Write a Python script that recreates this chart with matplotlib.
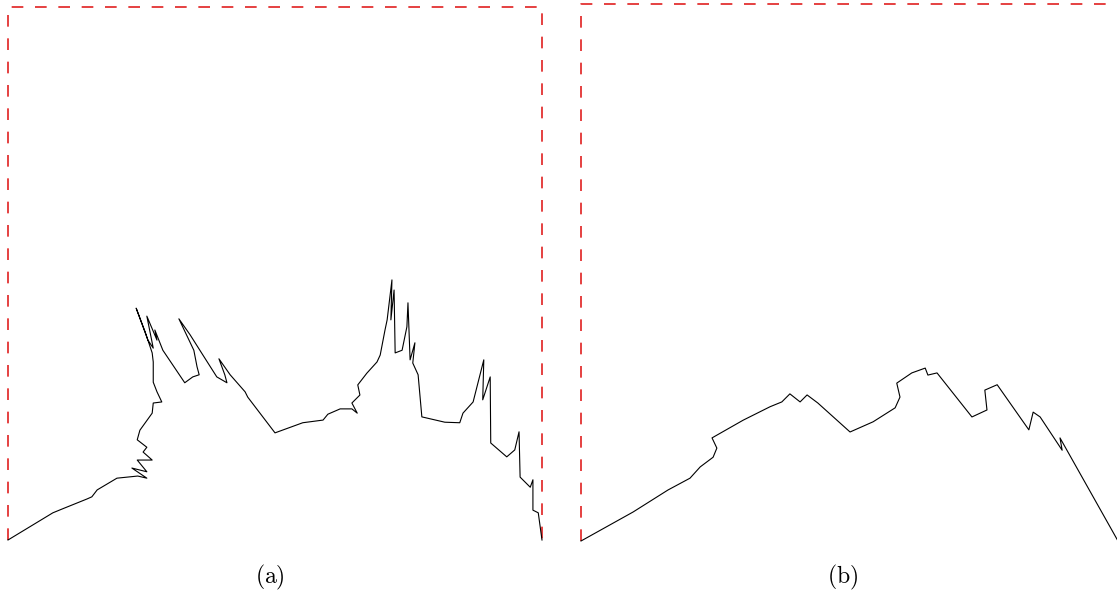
import matplotlib
matplotlib.use("Agg")
import matplotlib.pyplot as plt

# panel (a): path in box units (0..100 each way)
A_X = [0, 8.4, 10.1, 14.8, 15.7, 16.7, 20.4, 24.3, 26.0, 23.2, 26.0, 24.2, 27.0, 25.3,
       26.0, 24.2, 24.7, 27.0, 27.2, 28.8, 27.9, 27.2, 27.2, 27.0, 25.7, 24.0, 26.2,
       27.2, 26.0, 27.9, 27.5, 29.0, 33.1, 34.6, 35.8, 35.4, 34.8, 32.0, 34.1, 36.5,
       39.1, 41.0, 40.6, 39.5, 41.6, 44.4, 44.9, 50.0,
       55.2, 59.0, 59.9, 62.2, 64.4, 65.4, 64.4, 65.9, 65.5, 67.2, 69.1, 69.7, 70.6,
       71.0, 71.9, 71.7, 72.3, 72.5, 73.8, 74.7, 74.9, 75.3, 76.2, 75.8, 76.8, 77.5,
       81.8, 84.6, 85.2, 87.1, 89.1, 88.9, 90.3, 90.4,
       93.4, 94.9, 95.7, 95.9, 97.8, 98.3, 98.3, 99.3, 100]
A_Y = [0, 5.1, 5.8, 7.7, 8.1, 9.4, 11.6, 12.0, 11.6, 13.5, 12.8, 15.0, 15.0, 16.5,
       17.4, 18.8, 20.6, 23.8, 25.7, 25.9, 27.8, 29.6, 33.4, 35.1, 39.0, 43.5, 37.5,
       36.0, 42.0, 37.5, 39.4, 35.6, 29.5, 30.6, 31.0, 32.5, 35.6, 41.5, 38.5, 34.7,
       30.6, 29.5, 31.0, 34.0, 31.0, 27.8, 26.8, 20.1,
       22.0, 22.5, 23.6, 24.6, 24.6, 23.8, 25.7, 27.2, 29.1, 31.3, 33.4, 34.7, 39.4,
       41.3, 48.8, 41.3, 46.9, 35.1, 35.6, 40.0, 44.5, 33.8, 37.0, 33.2, 31.0, 23.1,
       22.1, 22.0, 23.8, 25.9, 33.8, 26.3, 30.6, 18.2,
       15.6, 16.9, 20.3, 11.8, 9.9, 11.3, 5.6, 5.1, 0]

# panel (b)
B_X = [0, 9.7, 16.2, 20.3, 22.2, 24.6, 25.3, 24.4, 30.2, 35.2, 37.4, 38.9, 40.8, 42.1,
       44.1, 50.1, 54.4, 58.5, 59.4, 58.8, 61.6, 64.1, 64.6, 66.3, 72.8, 75.6, 75.2,
       77.5, 83.4, 84.2, 85.5, 89.6, 89.2, 100]
B_Y = [0, 5.4, 9.5, 11.7, 13.8, 15.6, 17.3, 19.2, 22.5, 25.0, 25.9, 27.4, 25.9, 27.2,
       25.7, 20.3, 22.2, 24.8, 26.8, 29.4, 31.3, 32.2, 30.9, 31.3, 23.1, 24.4, 28.1,
       29.1, 20.7, 24.0, 23.1, 16.9, 19.2, 0]

LABELS = ["(a)", "(b)"]

plt.rcParams["mathtext.fontset"] = "cm"
W, H = 1117, 596
fig = plt.figure(figsize=(W / 100, H / 100), dpi=100)
fig.patch.set_facecolor("white")

boxes = [(8, 540, 534, 533), (581, 541, 537, 537)]
paths = [(A_X, A_Y), (B_X, B_Y)]
for (l, b, w, h), (xs, ys), lab in zip(boxes, paths, LABELS):
    ax = fig.add_axes([l / W, (H - b) / H, w / W, h / H])
    ax.set_xlim(0, 100); ax.set_ylim(0, 100)
    ax.axis("off")
    ax.plot([0, 0, 100, 100], [0, 100, 100, 0], color="#e02020", lw=1.2,
            dashes=(7, 7), clip_on=False)
    ax.plot(xs, ys, color="black", lw=0.8, clip_on=False)
    fig.text((l + 262) / W, 1 - 577 / H, r"$\mathrm{" + lab + "}$", fontsize=17,
             ha="center", va="center")

fig.savefig("out.png", dpi=100, facecolor="white")
